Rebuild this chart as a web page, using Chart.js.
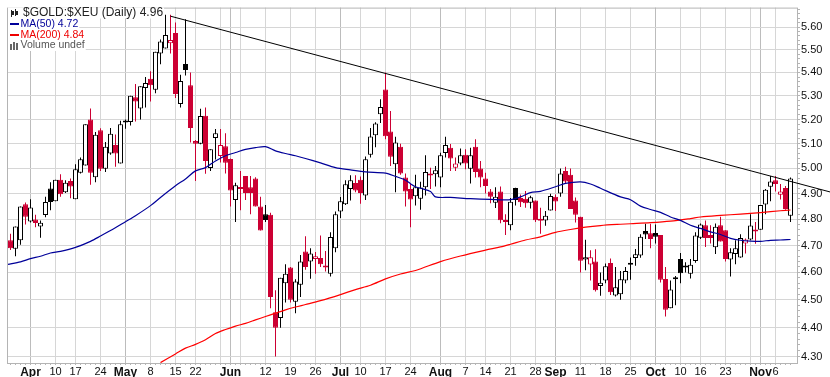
<!doctype html>
<html>
<head>
  <meta charset="utf-8">
  <script src="https://cdn.jsdelivr.net/npm/chart.js@4/dist/chart.umd.min.js"></script>
  <style>
    html, body { margin: 0; padding: 0; background: #fff; }
    canvas { display: block; }
  </style>
</head>
<body>
  <canvas id="f" width="830" height="377"></canvas>
  <script>
    const opens = [
      4.72,4.688,4.72,4.858,4.792,4.799,4.772,4.817,4.92,4.87,
      4.955,4.905,4.95,4.878,4.983,5.012,5.2,4.965,5.155,4.999,
      5.06,5.095,5.02,5.192,5.189,5.293,5.246,5.333,5.373,5.325,
      5.483,5.505,5.528,5.573,5.265,5.437,5.345,5.111,5.1,5.216,
      5.002,5.123,5.05,5.09,5.038,4.875,4.925,4.97,4.925,4.96,
      4.85,4.82,4.818,4.455,4.435,4.56,4.618,4.493,4.555,4.678,
      4.64,4.65,4.653,4.623,4.595,4.69,4.83,4.858,4.918,4.942,
      4.955,4.893,5.055,5.135,5.222,5.327,5.15,5.017,5.088,4.964,
      4.918,4.89,4.88,4.925,4.977,4.977,4.964,5.062,5.083,5.003,
      5.02,5.055,4.999,5.088,5.0,4.96,4.908,4.864,4.908,4.795,
      4.777,4.922,4.883,4.88,4.864,4.873,4.801,4.795,4.834,4.888,
      4.9,4.99,4.975,4.873,4.81,4.648,4.629,4.64,4.55,4.57,
      4.635,4.516,4.52,4.57,4.633,4.653,4.663,4.755,4.747,4.748,
      4.74,4.576,4.47,4.58,4.65,4.623,4.595,4.642,4.73,4.777,
      4.74,4.694,4.777,4.758,4.648,4.668,4.655,4.708,4.723,4.758,
      4.76,4.857,4.927,4.953,4.895,4.922,4.814
    ];
    const closes = [
      4.69,4.772,4.85,4.81,4.846,4.786,4.787,4.867,4.867,4.955,
      4.897,4.943,4.928,4.997,5.037,5.18,4.983,5.137,4.999,5.088,
      5.141,5.06,5.18,5.187,5.3,5.276,5.34,5.354,5.345,5.49,
      5.535,5.564,5.542,5.307,5.363,5.41,5.165,5.1,5.215,5.03,
      5.077,5.143,5.095,5.023,4.912,4.933,4.918,4.902,4.902,4.85,
      4.757,4.797,4.51,4.4,4.58,4.595,4.5,4.567,4.64,4.62,
      4.67,4.66,4.63,4.618,4.732,4.82,4.87,4.937,4.953,4.912,
      4.902,5.037,5.13,5.183,5.252,5.131,5.047,5.105,4.98,4.908,
      4.877,4.925,4.924,4.986,4.972,4.993,5.053,5.095,5.04,5.02,
      5.053,5.02,5.053,4.986,4.964,4.93,4.888,4.888,4.796,4.79,
      4.868,4.875,4.866,4.862,4.886,4.796,4.794,4.814,4.891,4.869,
      4.98,4.948,4.84,4.818,4.643,4.656,4.656,4.535,4.562,4.623,
      4.527,4.546,4.575,4.605,4.628,4.667,4.733,4.742,4.725,4.733,
      4.573,4.464,4.537,4.575,4.597,4.618,4.628,4.738,4.78,4.729,
      4.729,4.771,4.715,4.65,4.675,4.69,4.729,4.723,4.776,4.753,
      4.855,4.915,4.948,4.938,4.908,4.84,4.96
    ];
    const highs = [
      4.745,4.772,4.85,4.865,4.878,4.818,4.795,4.888,4.945,4.955,
      4.977,4.953,4.96,5.017,5.044,5.18,5.246,5.148,5.164,5.107,
      5.165,5.138,5.195,5.2,5.3,5.35,5.34,5.38,5.405,5.49,
      5.544,5.655,5.655,5.62,5.39,5.635,5.4,5.115,5.245,5.25,
      5.077,5.16,5.16,5.143,5.04,4.943,4.99,4.97,4.97,4.965,
      4.888,4.855,4.825,4.535,4.58,4.63,4.62,4.575,4.665,4.735,
      4.69,4.676,4.738,4.68,4.75,4.83,4.887,4.953,4.973,4.973,
      4.968,5.048,5.165,5.188,5.285,5.4,5.235,5.128,5.1,4.98,
      4.94,4.975,4.947,5.053,5.003,5.01,5.063,5.128,5.099,5.044,
      5.08,5.077,5.083,5.118,5.03,4.983,4.918,4.925,4.928,4.82,
      4.883,4.923,4.896,4.91,4.892,4.873,4.845,4.832,4.899,4.896,
      5.0,5.007,5.0,4.885,4.81,4.722,4.682,4.686,4.6,4.633,
      4.652,4.62,4.605,4.62,4.655,4.687,4.743,4.783,4.783,4.78,
      4.74,4.62,4.57,4.587,4.672,4.638,4.65,4.75,4.784,4.795,
      4.777,4.784,4.81,4.758,4.69,4.72,4.743,4.727,4.82,4.79,
      4.855,4.918,4.97,4.97,4.938,4.93,4.964
    ];
    const lows = [
      4.683,4.66,4.703,4.78,4.788,4.77,4.73,4.808,4.835,4.87,
      4.888,4.902,4.882,4.878,4.98,5.012,4.935,4.945,4.99,4.986,
      5.055,5.007,5.02,5.162,5.175,5.192,5.2,5.25,5.276,5.31,
      5.435,5.505,5.483,5.29,5.25,5.387,5.105,4.95,5.098,4.979,
      4.99,5.036,5.024,4.98,4.85,4.79,4.835,4.875,4.82,4.85,
      4.757,4.79,4.47,4.3,4.4,4.49,4.49,4.452,4.51,4.61,
      4.577,4.595,4.62,4.603,4.585,4.675,4.805,4.855,4.873,4.905,
      4.86,4.875,5.044,5.085,5.185,5.118,5.01,4.905,4.975,4.85,
      4.77,4.853,4.837,4.893,4.918,4.928,4.925,5.044,4.99,4.99,
      5.013,4.997,4.94,4.964,4.925,4.9,4.862,4.844,4.785,4.74,
      4.758,4.853,4.848,4.845,4.842,4.79,4.745,4.775,4.834,4.832,
      4.888,4.94,4.84,4.788,4.6,4.608,4.57,4.53,4.515,4.56,
      4.517,4.512,4.5,4.56,4.573,4.625,4.654,4.725,4.69,4.708,
      4.563,4.44,4.47,4.48,4.56,4.6,4.578,4.636,4.725,4.695,
      4.708,4.668,4.715,4.64,4.585,4.63,4.654,4.67,4.72,4.707,
      4.76,4.82,4.87,4.908,4.877,4.837,4.79
    ];
    // sessions that closed below the previous close
    const redDays = [0,3,5,10,12,16,18,21,25,28,32,33,36,37,39,42,43,44,46,47,48,49,50,52,53,56,59,61,62,63,
      69,70,75,76,78,79,80,84,88,89,91,93,94,95,96,98,99,102,103,105,106,109,111,112,113,114,116,117,120,
      128,130,131,139,140,142,143,147,149,153,154,155];

    const ma50Days = [-0.5,2,4,6,8,10,13,16,18,20,23,25,28,30,33,35,37,39,41,43,45,47,49,51,53,55,57,59,62,65,68,71,75,77,79,80,81,82,84,85,88,92,96,100,102,104,106,109,111,114,116,118,122,124,126,128,130,132,134,136,138,140,142,144,146,148,150,152,154,156];
    const ma50 = [4.63,4.639,4.651,4.66,4.672,4.678,4.693,4.716,4.736,4.757,4.791,4.814,4.853,4.885,4.931,4.958,4.99,5.003,5.03,5.051,5.064,5.077,5.084,5.088,5.071,5.06,5.051,5.04,5.022,5.003,4.994,4.986,4.981,4.968,4.953,4.939,4.927,4.921,4.908,4.887,4.885,4.88,4.877,4.876,4.887,4.904,4.909,4.927,4.94,4.946,4.938,4.921,4.887,4.876,4.851,4.838,4.827,4.809,4.796,4.777,4.765,4.752,4.742,4.727,4.72,4.717,4.716,4.72,4.721,4.723];

    const ma200Days = [30,33,35,37,39,41,43,45,47,49,51,53,55,57,59,62,66,69,72,75,78,81,86,90,95,98,100,103,106,109,112,115,118,122,124,128,132,136,138,142,146,150,154,156];
    const ma200 = [4.279,4.309,4.329,4.342,4.358,4.38,4.394,4.406,4.416,4.428,4.44,4.452,4.464,4.474,4.483,4.497,4.519,4.537,4.553,4.576,4.594,4.607,4.64,4.661,4.683,4.695,4.705,4.721,4.733,4.75,4.761,4.77,4.776,4.781,4.783,4.787,4.793,4.803,4.809,4.815,4.82,4.826,4.833,4.836];

    const trendDays = [32,164];
    const trend = [5.649,4.906];

    // gridline sessions and their labels, '' = gridline only
    const tickDays = [4,9,13,18,23,28,33,37,42,44,46,51,56,61,66,70,75,80,86,91,95,100,105,109,114,119,124,129,134,138,143,148,150,153];
    const tickLabels = ['Apr','10','17','24','May','8','15','22','','Jun','','12','19','26','Jul','10','17','24','Aug','7','14','21','28','Sep','11','18','25','Oct','10','16','23','','Nov','6'];
    const monthDays = [4,23,44,66,86,109,129,150];

    const legendRows = [
      {text: '$GOLD:$XEU (Daily) 4.96', color: '#222', x: 23, y: 13, font: '12px "Liberation Sans"'},
      {text: 'MA(50) 4.72', color: '#000099', x: 20.5, y: 24.5, font: '10.5px "Liberation Sans"'},
      {text: 'MA(200) 4.84', color: '#ee0000', x: 20.5, y: 35, font: '10.5px "Liberation Sans"'},
      {text: 'Volume undef', color: '#555', x: 20.5, y: 45.5, font: '10.5px "Liberation Sans"'}
    ];

    const RED = '#cc0033';
    const days = opens.map((v, i) => i);
    const isRed = i => redDays.includes(i);
    const isHollow = i => closes[i] > opens[i];
    const yTicks = [];
    for (let c = 430; c <= 568; c += 2) yTicks.push(c / 100);
    const isMajor = v => Math.round(v * 100) % 10 === 0;

    const frame = {
      id: 'frame',
      beforeDatasetsDraw(chart) {
        const a = chart.chartArea, c = chart.ctx;
        c.save();
        c.strokeStyle = '#b4b4b4';
        c.lineWidth = 1;
        c.strokeRect(a.left + 0.5, a.top + 0.5, a.right - a.left, a.bottom - a.top);
        c.restore();
      }
    };

    const titleBox = {
      id: 'titleBox',
      afterDraw(chart) {
        const c = chart.ctx;
        c.save();
        c.textBaseline = 'middle';
        legendRows.forEach(r => {
          c.font = r.font;
          c.fillStyle = '#fff';
          c.fillRect(8, r.y - 5.5, r.x + c.measureText(r.text).width - 7, 11);
          c.fillStyle = r.color;
          c.fillText(r.text, r.x, r.y);
        });
        // legend keys
        c.fillStyle = '#000099'; c.fillRect(10, 23, 9, 2);
        c.fillStyle = '#ee0000'; c.fillRect(10, 34, 9, 2);
        c.fillStyle = '#666';
        [[10, 44, 2, 6], [13, 42, 2, 8], [16, 43, 2, 7]].forEach(b => c.fillRect(b[0], b[1], b[2], b[3]));
        c.fillStyle = '#222';
        [[11, 10, 1, 7], [12, 11, 2, 4], [15, 9, 1, 7], [16, 11, 2, 4]].forEach(b => c.fillRect(b[0], b[1], b[2], b[3]));
        c.restore();
      }
    };

    new Chart(document.getElementById('f').getContext('2d'), {
      data: {
        datasets: [
          {
            type: 'line', order: 0, clip: false,
            data: trendDays.map((d, i) => ({x: d, y: trend[i]})),
            borderColor: '#000', borderWidth: 1, pointRadius: 0
          },
          {
            type: 'line', order: 1,
            data: ma50Days.map((d, i) => ({x: d, y: ma50[i]})),
            borderColor: '#000099', borderWidth: 1.2, pointRadius: 0, tension: 0.3
          },
          {
            type: 'line', order: 2,
            data: ma200Days.map((d, i) => ({x: d, y: ma200[i]})),
            borderColor: '#ff0000', borderWidth: 1.2, pointRadius: 0, tension: 0.3
          },
          {
            type: 'bar', order: 3, grouped: false, barThickness: 5, minBarLength: 2,
            inflateAmount: 0,
            data: days.map(i => ({x: i, y: [opens[i], closes[i]]})),
            backgroundColor: c => isHollow(c.dataIndex) ? '#fff' : (isRed(c.dataIndex) ? RED : '#000'),
            borderColor: c => isRed(c.dataIndex) ? RED : '#000',
            borderWidth: 1,
            borderSkipped: false
          },
          {
            type: 'bar', order: 4, grouped: false, barThickness: 1,
            inflateAmount: 0,
            data: days.map(i => ({x: i, y: [lows[i], highs[i]]})),
            backgroundColor: c => isRed(c.dataIndex) ? RED : '#000',
            borderWidth: 0
          }
        ]
      },
      options: {
        responsive: false,
        animation: false,
        events: [],
        layout: {padding: {left: 7, top: 6, right: 0, bottom: 0}},
        plugins: {legend: {display: false}, tooltip: {enabled: false}},
        scales: {
          x: {
            type: 'linear', min: -0.7, max: 157.3, offset: false,
            afterBuildTicks: s => { s.ticks = days.map(d => ({value: d})); },
            afterFit: s => { s.height = 14; },
            border: {display: false},
            grid: {
              offset: false,
              tickLength: 2,
              tickColor: '#b4b4b4',
              color: c => {
                if (!c.tick) return 'rgba(0,0,0,0)';
                if (monthDays.includes(c.tick.value)) return '#bcbcbc';
                return tickDays.includes(c.tick.value) ? '#d6d6d6' : 'rgba(0,0,0,0)';
              }
            },
            ticks: {
              autoSkip: false, maxRotation: 0, padding: 0, color: '#111',
              callback: v => {
                const k = tickDays.indexOf(v);
                return k < 0 ? '' : tickLabels[k];
              },
              font: c => (c.tick && monthDays.includes(c.tick.value))
                ? {family: '"Liberation Sans"', size: 12, weight: 'bold'}
                : {family: '"Liberation Sans"', size: 11}
            }
          },
          y: {
            type: 'logarithmic', position: 'right', min: 4.2777, max: 5.688,
            afterBuildTicks: s => { s.ticks = yTicks.map(v => ({value: v})); },
            afterFit: s => { s.width = 33; },
            border: {display: false},
            grid: {
              tickLength: 3,
              tickColor: '#b4b4b4',
              color: c => (c.tick && isMajor(c.tick.value)) ? '#d6d6d6' : 'rgba(0,0,0,0)'
            },
            ticks: {
              autoSkip: false, padding: 1, color: '#111',
              font: {family: '"Liberation Sans"', size: 11},
              callback: v => isMajor(v) ? v.toFixed(2) : ''
            }
          }
        }
      },
      plugins: [frame, titleBox]
    });
  </script>
</body>
</html>
